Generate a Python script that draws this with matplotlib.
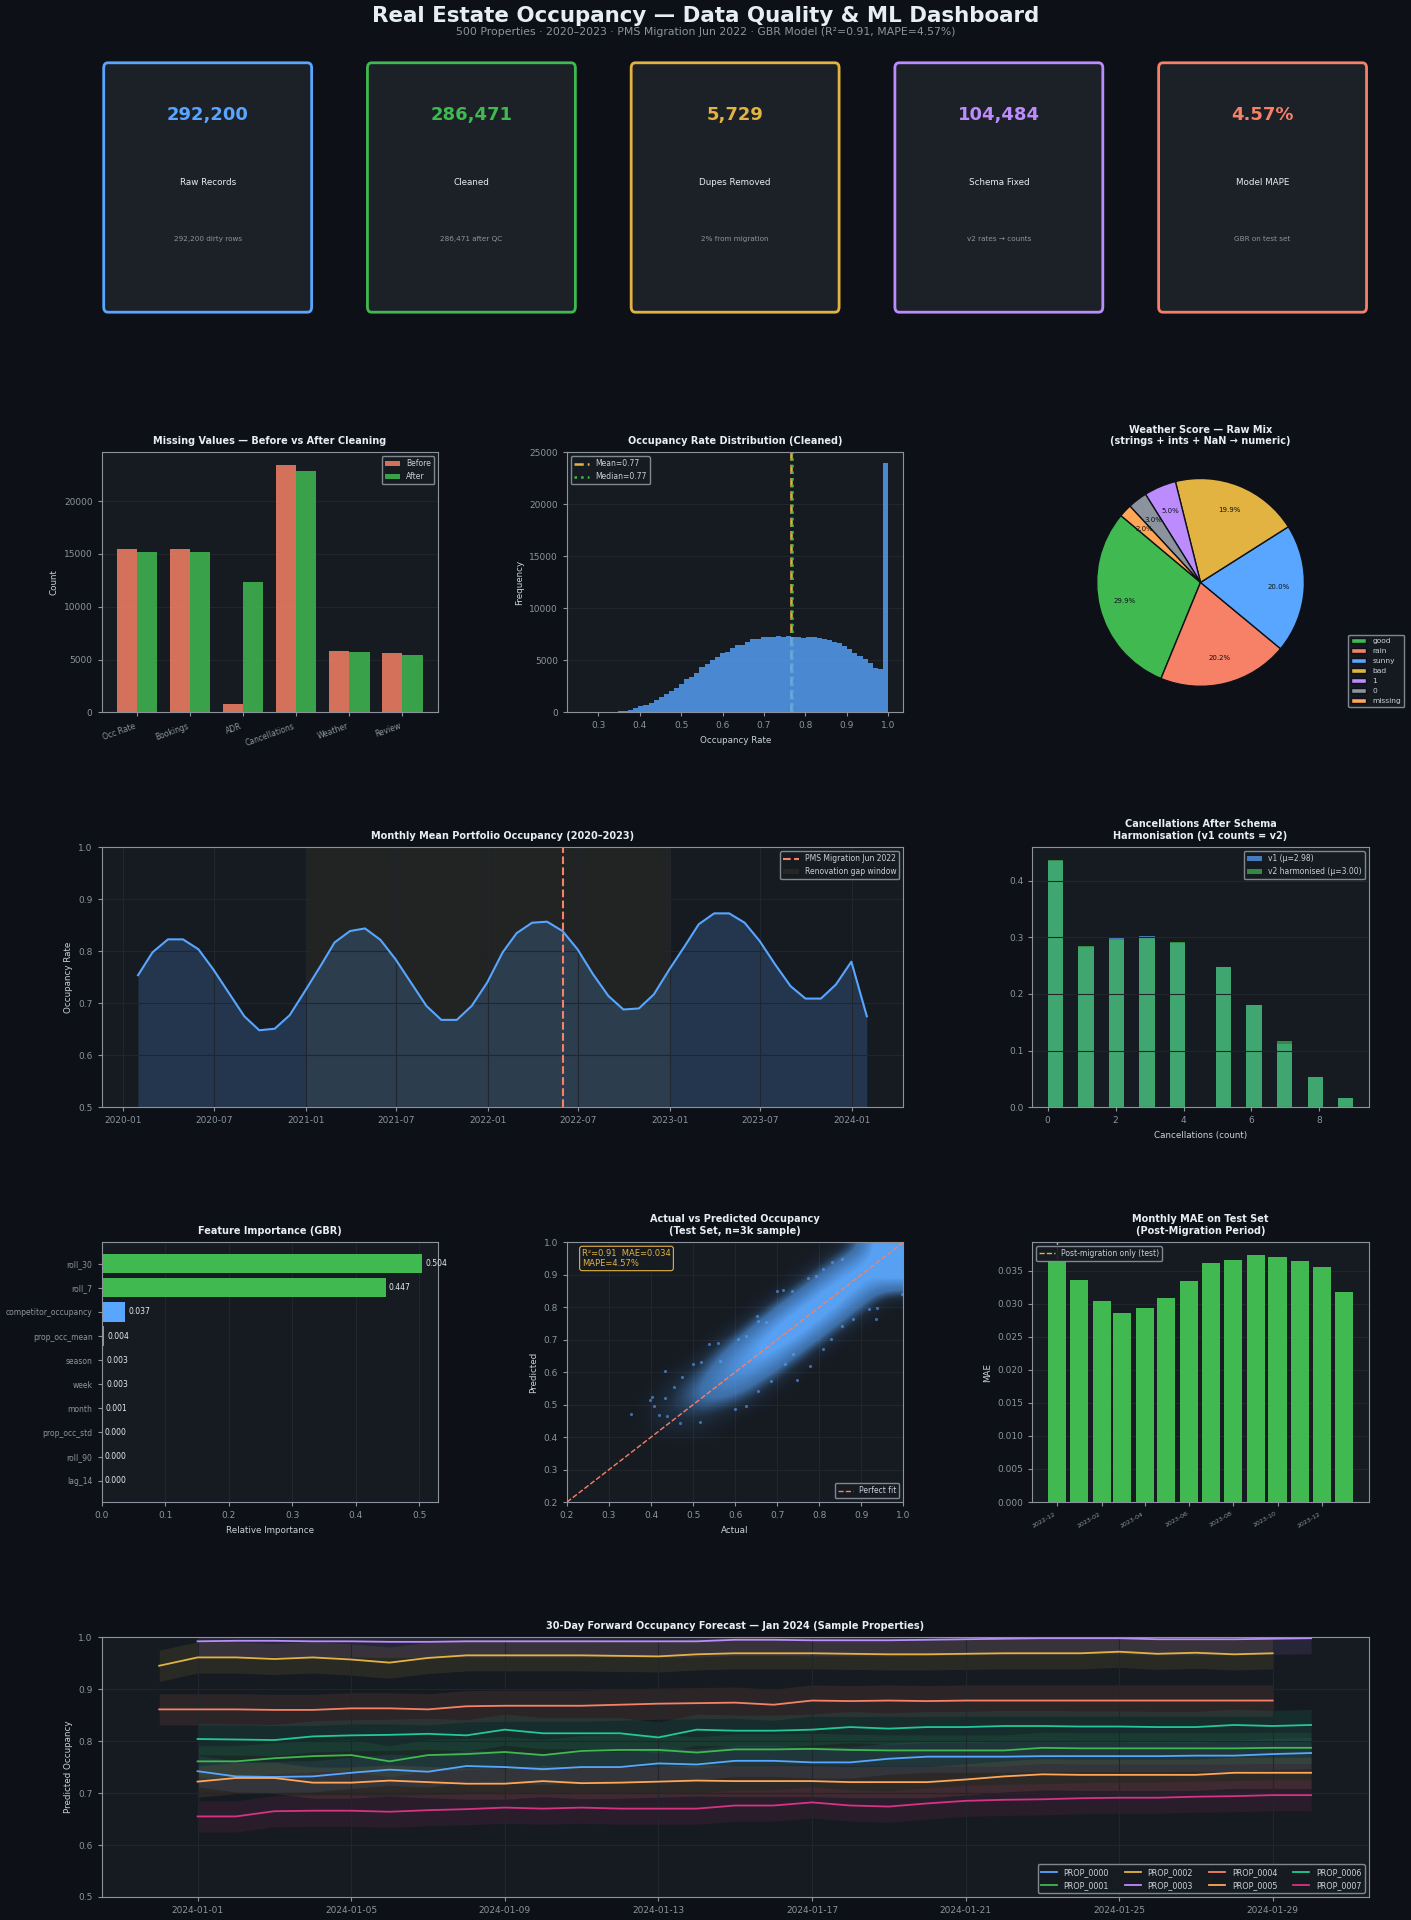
import numpy as np
import pandas as pd
import matplotlib
matplotlib.use("Agg")
import matplotlib.pyplot as plt
import matplotlib.dates as mdates
from matplotlib.patches import FancyBboxPatch, Patch
from matplotlib.colors import LinearSegmentedColormap, Normalize

# ---- palette ----
BG = "#0d1117"
PANEL = "#161b22"
CARD = "#1c2128"
GRID = "#21262d"
SPINE = "#8b949e"
TEXT = "#e6edf3"
LABEL = "#c9d1d9"
MUTED = "#8b949e"
BLUE = "#58a6ff"
GREEN = "#3fb950"
YELLOW = "#e3b341"
PURPLE = "#bc8cff"
RED = "#f78166"
ORANGE = "#ffa657"
TEAL = "#20c997"
PINK = "#d63384"
GRAY = "#8b949e"

# ---- data ----
kpi_values = ["292,200", "286,471", "5,729", "104,484", "4.57%"]
kpi_labels = ["Raw Records", "Cleaned", "Dupes Removed", "Schema Fixed", "Model MAPE"]
kpi_subs = ["292,200 dirty rows", "286,471 after QC", "2% from migration",
            "v2 rates \u2192 counts", "GBR on test set"]
kpi_colors = [BLUE, GREEN, YELLOW, PURPLE, RED]

missing_cols = ["Occ Rate", "Bookings", "ADR", "Cancellations", "Weather", "Review"]
missing_before = [15490, 15490, 820, 23440, 5840, 5650]
missing_after = [15200, 15170, 12370, 22870, 5740, 5460]

occ_lo, occ_hi = 0.261, 1.0
occ_counts = [1, 2, 5, 10, 20, 40, 70, 100, 170, 260,
              370, 560, 660, 900, 1180, 1430, 1780, 2040, 2350, 2720,
              3200, 3430, 3820, 4380, 4680, 5020, 5340, 5660, 5800, 6220,
              6470, 6480, 6730, 7020, 7080, 7220, 7280, 7280, 7300, 7270,
              7380, 7280, 7200, 7160, 7280, 7200, 7150, 7060, 6950, 6780,
              6650, 6380, 6050, 5700, 5400, 5100, 4700, 4300, 4150, 23950]
occ_mean = 0.766
occ_median = 0.767

weather_labels = ["good", "rain", "sunny", "bad", "1", "0", "missing"]
weather_pct = [29.9, 20.2, 20.0, 19.9, 5.0, 3.0, 2.0]
weather_colors = [GREEN, RED, BLUE, YELLOW, PURPLE, GRAY, ORANGE]

monthly_occ = [0.754, 0.798, 0.823, 0.823, 0.804, 0.765, 0.720, 0.675, 0.648, 0.651,
               0.677, 0.724, 0.772, 0.817, 0.839, 0.844, 0.822, 0.785, 0.740, 0.695,
               0.668, 0.668, 0.695, 0.740, 0.798, 0.835, 0.855, 0.857, 0.839, 0.804,
               0.756, 0.714, 0.688, 0.690, 0.717, 0.765, 0.810, 0.852, 0.873, 0.873,
               0.855, 0.820, 0.775, 0.733, 0.709, 0.709, 0.736, 0.780, 0.675]
migration_date = "2022-06-01"
gap_start, gap_end = "2021-01-01", "2023-01-01"

cancel_counts = [0, 1, 2, 3, 4, 5, 6, 7, 8, 9]
cancel_v1 = [0.1964, 0.1278, 0.1357, 0.1365, 0.1310, 0.1113, 0.0811, 0.0504, 0.0244, 0.0072]
cancel_v2 = [0.1964, 0.1278, 0.1328, 0.1344, 0.1310, 0.1112, 0.0810, 0.0525, 0.0243, 0.0072]

feat_names = ["roll_30", "roll_7", "competitor_occupancy", "prop_occ_mean", "season",
              "week", "month", "prop_occ_std", "roll_90", "lag_14"]
feat_imp = [0.504, 0.447, 0.037, 0.004, 0.003, 0.003, 0.001, 0.000, 0.000, 0.000]

# actual-vs-predicted density, rows = predicted 0.95 (top) .. 0.35, cols = actual 0.35 .. 0.95
cloud_grid = [
    [0, 0, 0, 0, 0, 0, 0, 0, 0, 0, 2, 13, 43],
    [0, 0, 0, 0, 0, 0, 0, 0, 0, 3, 14, 24, 35],
    [0, 0, 0, 0, 0, 0, 0, 0, 3, 15, 26, 15, 12],
    [0, 0, 0, 0, 0, 0, 0, 3, 15, 28, 15, 3, 0],
    [0, 0, 0, 0, 0, 0, 3, 16, 28, 16, 3, 0, 0],
    [0, 0, 0, 0, 0, 3, 15, 28, 16, 3, 0, 0, 0],
    [0, 0, 0, 0, 3, 13, 25, 15, 3, 0, 0, 0, 0],
    [0, 0, 0, 2, 10, 20, 14, 3, 0, 0, 0, 0, 0],
    [0, 0, 2, 6, 14, 11, 3, 0, 0, 0, 0, 0, 0],
    [0, 1, 4, 8, 7, 3, 0, 0, 0, 0, 0, 0, 0],
    [0, 2, 3, 3, 1, 0, 0, 0, 0, 0, 0, 0, 0],
    [0, 1, 1, 1, 0, 0, 0, 0, 0, 0, 0, 0, 0],
    [0, 0, 0, 0, 0, 0, 0, 0, 0, 0, 0, 0, 0],
]
stray_actual = [0.353, 0.434, 0.402, 0.398, 0.408, 0.420, 0.434, 0.438, 0.454, 0.469,
                0.474, 0.516, 0.499, 0.519, 0.539, 0.559, 0.600, 0.627, 0.654, 0.685,
                0.746, 0.777, 0.719, 0.652, 0.700, 0.715, 0.736, 0.774, 0.792, 0.809,
                0.831, 0.855, 0.938, 0.919, 0.936, 0.998, 0.808, 0.829, 0.855, 0.881,
                0.738, 0.564, 0.607, 0.627, 0.655, 0.674]
stray_pred = [0.471, 0.605, 0.525, 0.514, 0.496, 0.467, 0.519, 0.465, 0.553, 0.445,
              0.584, 0.448, 0.625, 0.630, 0.688, 0.689, 0.488, 0.495, 0.541, 0.572,
              0.577, 0.619, 0.624, 0.774, 0.851, 0.853, 0.849, 0.889, 0.895, 0.918,
              0.938, 0.950, 0.797, 0.793, 0.763, 0.841, 0.671, 0.702, 0.743, 0.763,
              0.657, 0.634, 0.702, 0.712, 0.758, 0.753]

mae_values = [0.0365, 0.0335, 0.0304, 0.0286, 0.0294, 0.0308, 0.0334, 0.0361,
              0.0366, 0.0374, 0.0371, 0.0364, 0.0355, 0.0318]

fc_0000 = [.742, .732, .731, .732, .739, .745, .741, .752, .750, .746, .750, .750, .757, .755, .762,
           .762, .759, .759, .766, .770, .770, .770, .771, .771, .771, .771, .772, .772, .775, .777]
fc_0001 = [.761, .761, .767, .771, .773, .761, .773, .775, .779, .773, .781, .783, .783, .778, .784,
           .784, .785, .783, .782, .782, .782, .782, .787, .786, .786, .786, .786, .786, .787, .787]
fc_0002 = [.945, .961, .961, .958, .961, .957, .951, .960, .965, .965, .965, .965, .964, .963, .967,
           .969, .969, .969, .968, .967, .967, .968, .969, .969, .969, .972, .968, .970, .967, .969]
fc_0003 = [.992, .993, .993, .992, .992, .991, .991, .992, .992, .992, .992, .992, .992, .992, .995,
           .995, .994, .994, .994, .995, .996, .997, .998, .998, .998, .996, .996, .996, .997, .998]
fc_0004 = [.861, .861, .861, .860, .860, .863, .863, .861, .867, .868, .868, .868, .870, .872, .873,
           .874, .870, .878, .877, .878, .877, .878, .878, .878, .878, .878, .878, .878, .878, .878]
fc_0005 = [.722, .729, .729, .720, .720, .724, .721, .718, .718, .723, .719, .720, .722, .724, .723,
           .723, .723, .721, .721, .721, .726, .732, .736, .735, .735, .735, .735, .739, .739, .739]
fc_0006 = [.804, .803, .802, .809, .811, .812, .814, .811, .822, .815, .815, .815, .807, .822, .820,
           .820, .822, .827, .824, .827, .827, .829, .829, .828, .828, .827, .827, .831, .829, .831]
fc_0007 = [.655, .655, .665, .666, .666, .664, .667, .669, .672, .670, .672, .670, .670, .670, .676,
           .676, .682, .676, .674, .680, .685, .687, .688, .690, .691, .691, .693, .694, .696, .696]
fc_names = ["PROP_0000", "PROP_0001", "PROP_0002", "PROP_0003",
            "PROP_0004", "PROP_0005", "PROP_0006", "PROP_0007"]
fc_start = ["2024-01-01", "2024-01-01", "2023-12-31", "2024-01-01",
            "2023-12-31", "2024-01-01", "2024-01-01", "2024-01-01"]
fc_band = 0.03
fc_colors = [BLUE, GREEN, YELLOW, PURPLE, RED, ORANGE, TEAL, PINK]

plt.rcParams.update({
    "font.family": "DejaVu Sans",
    "font.size": 6.5,
    "axes.facecolor": PANEL,
    "axes.edgecolor": SPINE,
    "axes.linewidth": 0.8,
    "axes.labelcolor": LABEL,
    "axes.labelsize": 6.3,
    "axes.titlesize": 7,
    "axes.titleweight": "bold",
    "axes.titlecolor": TEXT,
    "axes.titlepad": 6,
    "xtick.color": MUTED,
    "ytick.color": MUTED,
    "xtick.labelsize": 6.5,
    "ytick.labelsize": 6.5,
    "xtick.major.size": 3,
    "ytick.major.size": 3,
    "grid.color": GRID,
    "grid.linewidth": 0.8,
    "legend.facecolor": PANEL,
    "legend.edgecolor": SPINE,
    "legend.labelcolor": LABEL,
    "legend.fontsize": 5.5,
    "legend.framealpha": 0.9,
    "text.color": TEXT,
    "figure.facecolor": BG,
})

fig = plt.figure(figsize=(14.11, 19.2), dpi=100)
gs = fig.add_gridspec(5, 3, left=0.072, right=0.970, top=0.970, bottom=0.012,
                      hspace=0.52, wspace=0.384)

fig.text(0.5, 1 - 16 / 1920, "Real Estate Occupancy \u2014 Data Quality & ML Dashboard",
         ha="center", va="center", fontsize=15.4, weight="bold", color=TEXT)
fig.text(0.5, 1 - 32 / 1920,
         "500 Properties \u00b7 2020\u20132023 \u00b7 PMS Migration Jun 2022 \u00b7 "
         "GBR Model (R\u00b2=0.91, MAPE=4.57%)",
         ha="center", va="center", fontsize=7.8, color=MUTED)

# ---- KPI cards ----
kpi_gs = gs[0, :].subgridspec(1, 5, wspace=0.243)
for i in range(5):
    ax = fig.add_subplot(kpi_gs[0, i])
    ax.set_axis_off()
    card = FancyBboxPatch((0.03, 0.04), 0.94, 0.92, boxstyle="round,pad=0.02",
                          transform=ax.transAxes, facecolor=CARD,
                          edgecolor=kpi_colors[i], linewidth=2)
    ax.add_patch(card)
    ax.text(0.5, 0.78, kpi_values[i], ha="center", va="center", fontsize=13,
            weight="bold", color=kpi_colors[i], transform=ax.transAxes)
    ax.text(0.5, 0.52, kpi_labels[i], ha="center", va="center", fontsize=6.3,
            color=TEXT, transform=ax.transAxes)
    ax.text(0.5, 0.30, kpi_subs[i], ha="center", va="center", fontsize=5.2,
            color=MUTED, transform=ax.transAxes)

# ---- Missing values ----
ax = fig.add_subplot(gs[1, 0])
x = np.arange(len(missing_cols))
ax.bar(x - 0.19, missing_before, 0.38, color=RED, alpha=0.85, label="Before")
ax.bar(x + 0.19, missing_after, 0.38, color=GREEN, alpha=0.85, label="After")
ax.set_xticks(x)
ax.set_xticklabels(missing_cols, rotation=20, ha="right", fontsize=5.5)
ax.set_ylabel("Count")
ax.set_title("Missing Values \u2014 Before vs After Cleaning")
ax.grid(axis="y")
ax.set_axisbelow(True)
ax.legend(loc="upper right")

# ---- Occupancy histogram ----
ax = fig.add_subplot(gs[1, 1])
occ_edges = np.linspace(occ_lo, occ_hi, len(occ_counts) + 1)
occ_centers = (occ_edges[:-1] + occ_edges[1:]) / 2
ax.hist(occ_centers, bins=occ_edges, weights=occ_counts, color=BLUE, alpha=0.8, zorder=3)
ax.axvline(occ_mean, color=YELLOW, ls="--", lw=1.8, zorder=2, label=f"Mean={occ_mean:.2f}")
ax.axvline(occ_median, color=GREEN, ls=":", lw=1.8, zorder=2, label=f"Median={occ_median:.2f}")
ax.set_ylim(0, 25000)
ax.set_xlabel("Occupancy Rate")
ax.set_ylabel("Frequency")
ax.set_title("Occupancy Rate Distribution (Cleaned)")
ax.grid(axis="y")
ax.legend(loc="upper left")

# ---- Weather pie ----
ax = fig.add_subplot(gs[1, 2])
wedges, _, _ = ax.pie(weather_pct, colors=weather_colors, autopct="%1.1f%%", startangle=140,
                      pctdistance=0.75, wedgeprops=dict(edgecolor=BG, linewidth=1),
                      textprops=dict(fontsize=5, color=BG))
ax.set_aspect("equal")
ax.set_title("Weather Score \u2014 Raw Mix\n(strings + ints + NaN \u2192 numeric)")
ax.legend(wedges, weather_labels, loc="lower right", bbox_to_anchor=(1404 / 1411, 1 - 707 / 1920),
          bbox_transform=fig.transFigure, borderaxespad=0, fontsize=5.4)

# ---- Monthly occupancy ----
ax = fig.add_subplot(gs[2, :2])
months = pd.date_range("2020-01-01", periods=len(monthly_occ), freq="MS") + pd.offsets.MonthEnd(0)
ax.axvspan(pd.Timestamp(gap_start), pd.Timestamp(gap_end), color=YELLOW, alpha=0.06, lw=0)
ax.fill_between(months, monthly_occ, 0.5, color=BLUE, alpha=0.2, lw=0)
ax.plot(months, monthly_occ, color=BLUE, lw=1.5)
mig = ax.axvline(pd.Timestamp(migration_date), color=RED, ls="--", lw=1.5)
ax.set_ylim(0.5, 1.0)
ax.xaxis.set_major_locator(mdates.MonthLocator(bymonth=[1, 7]))
ax.xaxis.set_major_formatter(mdates.DateFormatter("%Y-%m"))
ax.set_ylabel("Occupancy Rate")
ax.set_title("Monthly Mean Portfolio Occupancy (2020\u20132023)")
ax.grid(True)
ax.legend([mig, Patch(facecolor="#262625")], ["PMS Migration Jun 2022", "Renovation gap window"],
          loc="upper right")

# ---- Cancellations ----
ax = fig.add_subplot(gs[2, 2])
cbins = np.linspace(0, 9, 21)
ax.hist(cancel_counts, bins=cbins, weights=cancel_v1, density=True, color=BLUE, alpha=0.7,
        label="v1 (\u03bc=2.98)")
ax.hist(cancel_counts, bins=cbins, weights=cancel_v2, density=True, color=GREEN, alpha=0.7,
        label="v2 harmonised (\u03bc=3.00)")
ax.set_xlabel("Cancellations (count)")
ax.set_title("Cancellations After Schema\nHarmonisation (v1 counts = v2)")
ax.grid(axis="y")
ax.legend(loc="upper right")

# ---- Feature importance ----
ax = fig.add_subplot(gs[3, 0])
fcolors = [GREEN if v > 0.1 else BLUE if v > 0.01 else GRAY for v in feat_imp]
yy = np.arange(len(feat_names))
ax.barh(yy, feat_imp, height=0.8, color=fcolors)
ax.set_yticks(yy)
ax.set_yticklabels(feat_names, fontsize=5.5)
ax.invert_yaxis()
for i, v in enumerate(feat_imp):
    ax.text(v + 0.005, i, f"{v:.3f}", va="center", fontsize=5.5, color=TEXT)
ax.set_xlabel("Relative Importance")
ax.set_title("Feature Importance (GBR)")
ax.grid(axis="x")
ax.set_axisbelow(True)

# ---- Actual vs predicted ----
ax = fig.add_subplot(gs[3, 1])
cloud_cmap = LinearSegmentedColormap.from_list(
    "cloud", [(0.0, (0.345, 0.651, 1.0, 0.0)), (0.12, (0.345, 0.651, 1.0, 0.12)),
              (0.35, (0.345, 0.651, 1.0, 0.6)), (1.0, (0.36, 0.66, 1.0, 0.95))])
ax.imshow(np.array(cloud_grid), extent=(0.35, 1.0, 0.35, 1.0), origin="upper", aspect="auto",
          cmap=cloud_cmap, norm=Normalize(0, 18, clip=True), interpolation="bicubic", zorder=2)
ax.scatter(stray_actual, stray_pred, s=5, color=BLUE, alpha=0.6, lw=0, zorder=3)
ax.plot([0.2, 1.0], [0.2, 1.0], color=RED, ls="--", lw=1, label="Perfect fit", zorder=4)
ax.set_xlim(0.2, 1.0)
ax.set_ylim(0.2, 1.0)
ax.set_xlabel("Actual")
ax.set_ylabel("Predicted")
ax.set_title("Actual vs Predicted Occupancy\n(Test Set, n=3k sample)")
ax.grid(True)
ax.text(0.045, 0.975, "R\u00b2=0.91  MAE=0.034\nMAPE=4.57%", transform=ax.transAxes,
        va="top", ha="left", fontsize=6, color=YELLOW, zorder=5,
        bbox=dict(boxstyle="round,pad=0.3", facecolor=PANEL, edgecolor=YELLOW, lw=0.8))
ax.legend(loc="lower right")

# ---- Monthly MAE ----
ax = fig.add_subplot(gs[3, 2])
mae_months = pd.date_range("2022-12-01", periods=len(mae_values), freq="MS")
ax.bar(mae_months, mae_values, width=25, color=GREEN, zorder=3)
ax.axvline(mae_months[0], color=YELLOW, ls="--", lw=1, zorder=2, label="Post-migration only (test)")
ax.set_xticks(mae_months[::2])
ax.xaxis.set_major_formatter(mdates.DateFormatter("%Y-%m"))
plt.setp(ax.get_xticklabels(), rotation=30, ha="right", fontsize=4.5)
ax.set_ylabel("MAE")
ax.set_title("Monthly MAE on Test Set\n(Post-Migration Period)")
ax.grid(axis="y")
ax.legend(loc="upper left")

# ---- 30 day forecast ----
ax = fig.add_subplot(gs[4, :])
fc_series = [fc_0000, fc_0001, fc_0002, fc_0003, fc_0004, fc_0005, fc_0006, fc_0007]
for name, start, vals, col in zip(fc_names, fc_start, fc_series, fc_colors):
    days = pd.date_range(start, periods=len(vals), freq="D")
    v = np.array(vals)
    ax.fill_between(days, v - fc_band, v + fc_band, color=col, alpha=0.1, lw=0)
    ax.plot(days, v, color=col, lw=1.3, label=name)
ax.set_ylim(0.5, 1.0)
ax.xaxis.set_major_locator(mdates.DayLocator(bymonthday=[1, 5, 9, 13, 17, 21, 25, 29]))
ax.xaxis.set_major_formatter(mdates.DateFormatter("%Y-%m-%d"))
ax.set_ylabel("Predicted Occupancy")
ax.set_title("30-Day Forward Occupancy Forecast \u2014 Jan 2024 (Sample Properties)")
ax.grid(True)
ax.legend(loc="lower right", ncol=4, fontsize=5.8)

fig.savefig("out.png", dpi=100, facecolor=BG)
